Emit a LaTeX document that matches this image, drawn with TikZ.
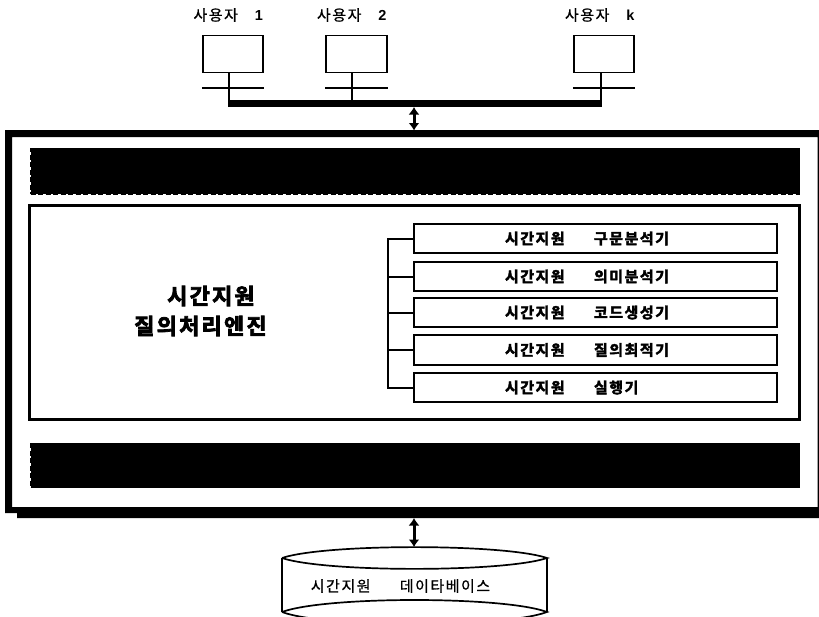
\documentclass[tikz,border=0pt]{standalone}
\usepackage{fontspec}
\setmainfont{Liberation Sans}
\newfontfamily\krfont[LetterSpace=10,FakeBold=0.8]{Noto Sans CJK KR}
\newfontfamily\krbold[LetterSpace=10,FakeBold=2.5]{Noto Sans CJK KR Bold}
\newfontfamily\krtitle[LetterSpace=10,FakeBold=3.5]{Noto Sans CJK KR Bold}
\usetikzlibrary{arrows.meta}
\newcommand{\userlabel}[1]{\makebox[70pt][l]{{\krfont\fontsize{15}{16}\selectfont 사용자}\hspace{17pt}{\bfseries\fontsize{14.5}{15}\selectfont #1}}}
\newcommand{\modtxt}[1]{\makebox[363pt][l]{\hspace{91pt}\makebox[89pt][l]{시간지원}#1}}
\tikzset{
 x=1pt,y=-1pt,
 ln/.style={draw=black,line width=2pt},
 thinbar/.style={draw=black,line width=1.4pt},
 term/.style={draw=black,line width=1.7pt,fill=white,minimum width=60.5pt,minimum height=37pt,inner sep=0pt},
 userlbl/.style={inner sep=0pt,anchor=center},
 band/.style={draw=black,fill=black,dash pattern=on 5pt off 2.5pt,line width=.8pt,minimum width=769pt,inner sep=0pt},
 modbox/.style={draw=black,line width=1.9pt,fill=white,minimum width=363pt,minimum height=29.5pt,inner sep=0pt,font=\krbold\fontsize{15}{16}\selectfont},
 dblarrow/.style={line width=3pt,{Latex[length=7.5pt,width=11pt]}-{Latex[length=7.5pt,width=11pt]}},
 cyl/.style={draw=black,line width=1.7pt},
}
\begin{document}
\begin{tikzpicture}
\useasboundingbox (0,0) rectangle (819,616);
\node[userlbl] (l1) at (228.5,15) {\userlabel{1}};
\node[userlbl] (l2) at (352,15) {\userlabel{2}};
\node[userlbl] (lk) at (600,15) {\userlabel{k}};
\node[term] (t1) at (233,54) {};
\node[term] (t2) at (356.5,54) {};
\node[term] (tk) at (604,54) {};
\coordinate (b1) at (228.5,103.5);
\coordinate (b2) at (352,103.5);
\coordinate (bk) at (600.5,103.5);
\draw[ln] (t1.south -| b1) -- (b1);
\draw[ln] (t2.south -| b2) -- (b2);
\draw[ln] (tk.south -| bk) -- (bk);
\draw[thinbar] (t1.west |- 0,88) -- (t1.east |- 0,88);
\draw[thinbar] (t2.west |- 0,88) -- (t2.east |- 0,88);
\draw[thinbar] (tk.west |- 0,88) -- (tk.east |- 0,88);
\draw[line width=7pt] ([xshift=-.5pt]b1) -- ([xshift=1.5pt]bk);
% outer frame with stepped shadow
\fill[black,even odd rule] (5,130) -- (819,130) -- (819,518) -- (17,518) -- (17,513) -- (5,513) -- cycle
  (12,137) rectangle (817.5,507);
\node[band,minimum height=45.5pt] (top) at (415,171.2) {};
\node[band,minimum height=44.5pt] (bot) at (415,465.5) {};
\node[draw=black,line width=3pt,fill=white,minimum width=770pt,minimum height=214pt,inner sep=0pt] (engine) at (414.5,312.5) {};
\node[font=\krtitle\fontsize{22}{30}\selectfont,align=center,inner sep=0pt] (title) at (200.5,311) {\hspace*{21pt}시간지원\\질의처리엔진};
\node[modbox] (m1) at (595.5,238.5) {\modtxt{구문분석기}};
\node[modbox] (m2) at (595.5,276.5) {\modtxt{의미분석기}};
\node[modbox] (m3) at (595.5,312.5) {\modtxt{코드생성기}};
\node[modbox] (m4) at (595.5,350) {\modtxt{질의최적기}};
\node[modbox] (m5) at (595.5,387.5) {\modtxt{실행기}};
\coordinate (sp) at (387.5,0);
\draw[ln] (m1.west) -- (m1.west -| sp) -- (m5.west -| sp) -- (m5.west);
\draw[ln] (m2.west) -- (m2.west -| sp);
\draw[ln] (m3.west) -- (m3.west -| sp);
\draw[ln] (m4.west) -- (m4.west -| sp);
\coordinate (busdrop) at (414,107);
\coordinate (outtop) at (414,130.5);
\draw[dblarrow] (busdrop) -- (outtop);
\coordinate (outbot) at (414,518);
\coordinate (dbtop) at (414,547);
\draw[dblarrow] (outbot) -- (dbtop);
% database cylinder
\draw[cyl] (282,558) .. controls (325,543.5) and (504,543.5) .. (547,558) .. controls (504,572.5) and (325,572.5) .. (282,558);
\draw[cyl] (282,558) -- (282,612) (547,558) -- (547,612);
\draw[cyl] (282,612) .. controls (325,596) and (504,596) .. (547,612) .. controls (504,628) and (325,628) .. (282,612);
\node[font=\krfont\fontsize{15}{16}\selectfont,inner sep=0pt] (db) at (400.5,586) {\makebox[89pt][l]{시간지원}데이타베이스};
\end{tikzpicture}
\end{document}
